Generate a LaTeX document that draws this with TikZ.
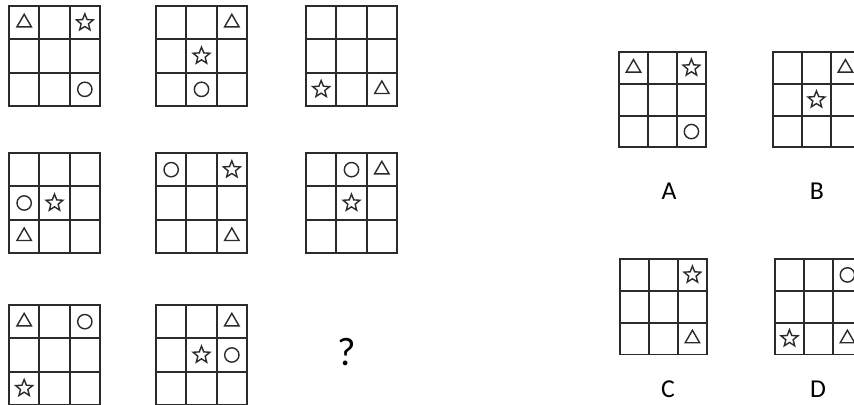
\documentclass[tikz,border=0pt]{standalone}
\usepackage{fontspec}
\setmainfont{Carlito}
\usetikzlibrary{shapes.geometric}
\definecolor{ink}{HTML}{2b2b2b}
\tikzset{
  gridline/.style = {draw=ink, line width=1.7pt},
  starsym/.style  = {star, star points=5, star point ratio=2.3, draw=ink, line width=1.2pt, minimum size=5.3mm, inner sep=0},
  trisym/.style   = {regular polygon, regular polygon sides=3, draw=ink, line width=1.2pt, minimum size=5.0mm, inner sep=0},
  ringsym/.style  = {circle, draw=ink, line width=1.2pt, minimum size=4.3mm, inner sep=0},
  letter/.style   = {font=\fontsize{22}{24}\selectfont, text=black},
  panel/.pic = {
    \draw[gridline] (0,0) rectangle (91,100);
    \foreach \k in {1,2} {
      \draw[gridline] (\k*91/3,0) -- (\k*91/3,100);
      \draw[gridline] (0,\k*100/3) -- (91,\k*100/3);
    }
    \foreach \r in {1,2,3} \foreach \c in {1,2,3}
      \coordinate (-\r\c) at ({(\c-0.5)*91/3},{(\r-0.5)*100/3});
  }
}

\begin{document}
\begin{tikzpicture}[x=0.03cm, y=-0.03cm]

  \useasboundingbox[fill=white] (0,0) rectangle (854,405);

  % ---- riga 1 ----
  \pic (g1) at (9,6)   {panel};
  \pic (g2) at (156,6) {panel};
  \pic (g3) at (306,6) {panel};
  \node[trisym]  (g1t) at (g1-11) {}; \node[starsym] (g1s) at (g1-13) {}; \node[ringsym] (g1o) at (g1-33) {};
  \node[trisym]  (g2t) at (g2-13) {}; \node[starsym] (g2s) at (g2-22) {}; \node[ringsym] (g2o) at (g2-32) {};
  \node[starsym] (g3s) at (g3-31) {}; \node[trisym]  (g3t) at (g3-33) {};

  % ---- riga 2 ----
  \pic (g4) at (9,153)   {panel};
  \pic (g5) at (156,153) {panel};
  \pic (g6) at (306,153) {panel};
  \node[ringsym] (g4o) at (g4-21) {}; \node[starsym] (g4s) at (g4-22) {}; \node[trisym]  (g4t) at (g4-31) {};
  \node[ringsym] (g5o) at (g5-11) {}; \node[starsym] (g5s) at (g5-13) {}; \node[trisym]  (g5t) at (g5-33) {};
  \node[ringsym] (g6o) at (g6-12) {}; \node[trisym]  (g6t) at (g6-13) {}; \node[starsym] (g6s) at (g6-22) {};

  % ---- riga 3 ----
  \pic (g7) at (9,305)   {panel};
  \pic (g8) at (156,305) {panel};
  \node[trisym]  (g7t) at (g7-11) {}; \node[ringsym] (g7o) at (g7-13) {}; \node[starsym] (g7s) at (g7-31) {};
  \node[trisym]  (g8t) at (g8-13) {}; \node[starsym] (g8s) at (g8-22) {}; \node[ringsym] (g8o) at (g8-23) {};
  \node[font=\fontsize{34}{36}\selectfont, text=black] (qm) at (347,352) {?};

  % ---- risposte ----
  \pic[scale=0.955] (pa) at (619,52)  {panel};
  \pic[scale=0.955] (pb) at (773,52)  {panel};
  \pic[scale=0.955] (pc) at (620,259) {panel};
  \pic[scale=0.955] (pd) at (775,259) {panel};
  \node[trisym]  (pat) at (pa-11) {}; \node[starsym] (pas) at (pa-13) {}; \node[ringsym] (pao) at (pa-33) {};
  \node[trisym]  (pbt) at (pb-13) {}; \node[starsym] (pbs) at (pb-22) {};
  \node[starsym] (pcs) at (pc-13) {}; \node[trisym]  (pct) at (pc-33) {};
  \node[ringsym] (pdo) at (pd-13) {}; \node[starsym] (pds) at (pd-31) {}; \node[trisym]  (pdt) at (pd-33) {};
  \node[letter] (la) at (669,191) {A};
  \node[letter] (lb) at (817,191) {B};
  \node[letter] (lc) at (668,389) {C};
  \node[letter] (ld) at (818,389) {D};

\end{tikzpicture}
\end{document}
